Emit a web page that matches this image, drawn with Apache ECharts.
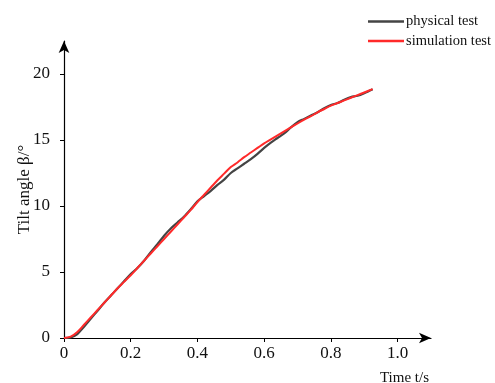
<!DOCTYPE html>
<html>
<head>
<meta charset="utf-8">
<script src="https://cdn.jsdelivr.net/npm/echarts@6/dist/echarts.min.js"></script>
<style>
  html, body { margin: 0; padding: 0; background: #fff; }
  #chart { width: 495px; height: 383px; }
</style>
</head>
<body>
<div id="chart"></div>
<script>
// Time samples (s)
const times = [0, 0.02, 0.04, 0.06, 0.08, 0.1, 0.12, 0.14, 0.16, 0.18, 0.2, 0.22, 0.24, 0.26, 0.28, 0.3,
  0.32, 0.34, 0.36, 0.38, 0.4, 0.42, 0.44, 0.46, 0.48, 0.5, 0.52, 0.54, 0.56, 0.58, 0.6, 0.62, 0.64,
  0.66, 0.68, 0.7, 0.72, 0.74, 0.76, 0.78, 0.8, 0.82, 0.84, 0.86, 0.88, 0.9, 0.925];

// Tilt angle (deg) measured on the physical rig
const physicalTest = [0, 0.05, 0.3, 0.85, 1.45, 2.05, 2.65, 3.2, 3.75, 4.3, 4.85, 5.3, 5.85, 6.5, 7.1, 7.75,
  8.3, 8.75, 9.2, 9.75, 10.35, 10.75, 11.15, 11.6, 12.0, 12.5, 12.85, 13.2, 13.55, 13.95, 14.4, 14.8, 15.15,
  15.5, 15.95, 16.35, 16.6, 16.85, 17.1, 17.4, 17.65, 17.8, 18.05, 18.25, 18.35, 18.55, 18.85];

// Tilt angle (deg) from the simulation model
const simulationTest = [0, 0.1, 0.45, 1.0, 1.55, 2.1, 2.65, 3.2, 3.75, 4.25, 4.75, 5.3, 5.85, 6.4, 6.95, 7.5,
  8.05, 8.6, 9.15, 9.7, 10.3, 10.85, 11.4, 11.95, 12.45, 12.95, 13.3, 13.7, 14.05, 14.4, 14.75, 15.05, 15.35,
  15.65, 15.95, 16.25, 16.55, 16.8, 17.1, 17.35, 17.6, 17.8, 18.0, 18.2, 18.4, 18.6, 18.85];

const xTicks = [0, 0.2, 0.4, 0.6, 0.8, 1.0];
const yTicks = [0, 5, 10, 15, 20];

const serif = '"Liberation Serif", "DejaVu Serif", serif';

const chart = echarts.init(document.getElementById('chart'), null, { renderer: 'canvas' });

chart.setOption({
  animation: false,
  backgroundColor: '#ffffff',
  grid: { left: 64, right: 64, top: 41, bottom: 45, outerBoundsMode: 'none', containLabel: false },
  legend: {
    orient: 'vertical',
    left: 363,
    top: 9,
    icon: 'rect',
    itemWidth: 36,
    itemHeight: 2.5,
    itemGap: 4.5,
    textStyle: { fontFamily: serif, fontSize: 14.5, color: '#111', padding: [0, 0, 0, -3] },
    data: ['physical test', 'simulation test']
  },
  xAxis: {
    type: 'value',
    min: 0,
    max: 1.1,
    name: 'Time t/s',
    nameLocation: 'end',
    nameGap: -2,
    nameMoveOverlap: false,
    nameTextStyle: {
      fontFamily: serif, fontSize: 15, color: '#111',
      align: 'right', verticalAlign: 'top', padding: [33, 0, 0, 0]
    },
    axisLine: {
      show: true,
      symbol: ['none', 'arrow'],
      symbolSize: [8, 12],
      lineStyle: { color: '#000', width: 1.2 }
    },
    axisTick: { show: true, customValues: xTicks, length: 4, lineStyle: { color: '#000' } },
    axisLabel: {
      customValues: xTicks,
      formatter: v => (v === 0 ? '0' : v.toFixed(1)),
      fontFamily: serif, fontSize: 17, color: '#111', margin: 7
    },
    splitLine: { show: false }
  },
  yAxis: {
    type: 'value',
    min: 0,
    max: 22.5,
    name: 'Tilt angle β/°',
    nameLocation: 'middle',
    nameGap: 31,
    nameMoveOverlap: false,
    nameTextStyle: { fontFamily: serif, fontSize: 17, color: '#111' },
    axisLine: {
      show: true,
      symbol: ['none', 'arrow'],
      symbolSize: [8, 12],
      lineStyle: { color: '#000', width: 1.2 }
    },
    axisTick: { show: true, customValues: yTicks, length: 4, lineStyle: { color: '#000' } },
    axisLabel: {
      customValues: yTicks,
      fontFamily: serif, fontSize: 17, color: '#111', margin: 14
    },
    splitLine: { show: false }
  },
  series: [
    {
      name: 'physical test',
      type: 'line',
      data: times.map((t, i) => [t, physicalTest[i]]),
      symbol: 'none',
      smooth: 0.3,
      lineStyle: { color: '#444444', width: 2.2 },
      itemStyle: { color: '#444444' },
      z: 2
    },
    {
      name: 'simulation test',
      type: 'line',
      data: times.map((t, i) => [t, simulationTest[i]]),
      symbol: 'none',
      smooth: 0.3,
      lineStyle: { color: '#ff2a2a', width: 2 },
      itemStyle: { color: '#ff2a2a' },
      z: 3
    }
  ]
});
</script>
</body>
</html>
